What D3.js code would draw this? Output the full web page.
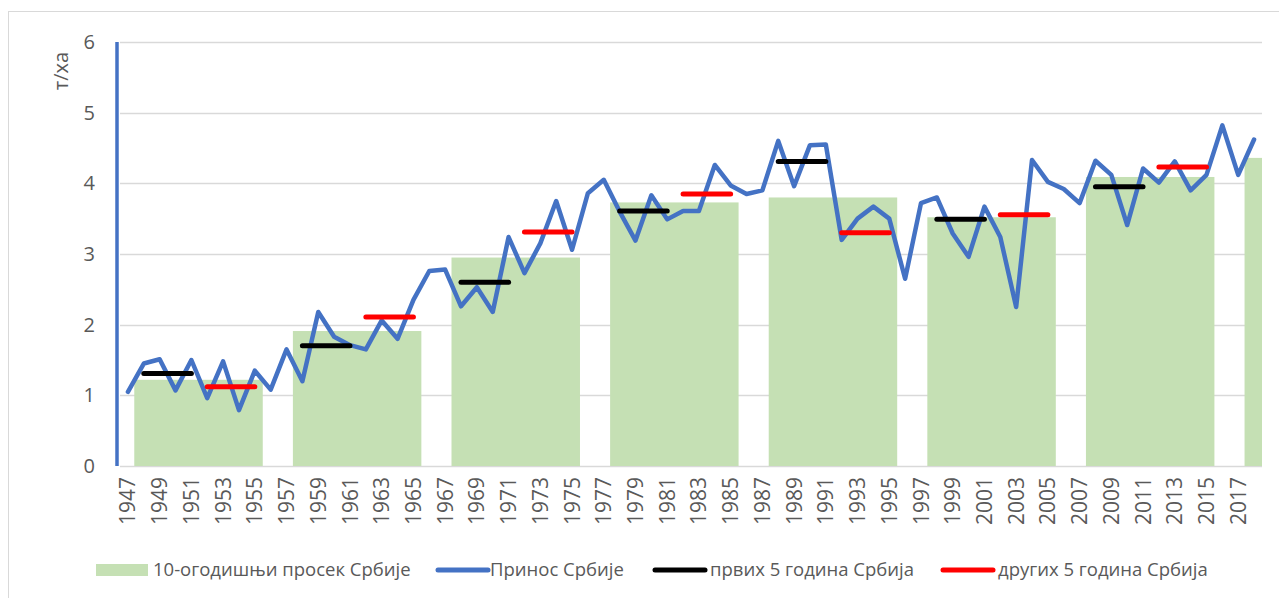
<!DOCTYPE html>
<html>
<head>
<meta charset="utf-8">
<script src="https://cdn.jsdelivr.net/npm/d3@7"></script>
<style>
  body { margin: 0; background: #fff; }
  text { font-family: "Open Sans", "Noto Sans", sans-serif; fill: #595959; }
</style>
</head>
<body>
<div class="chart"></div>
<script>
var svgWidth = 1279;
var svgHeight = 598;

// years on the category axis
var years = d3.range(1947, 2019);
var yearLabels = d3.range(1947, 2019, 2);

// Принос Србије (т/ха)
var yields = [
  1.05, 1.45, 1.51, 1.07, 1.50, 0.96, 1.48, 0.79, 1.35, 1.08,
  1.65, 1.20, 2.18, 1.83, 1.71, 1.65, 2.06, 1.80, 2.35, 2.76,
  2.78, 2.26, 2.53, 2.18, 3.24, 2.73, 3.15, 3.75, 3.06, 3.86,
  4.05, 3.60, 3.19, 3.83, 3.49, 3.61, 3.61, 4.26, 3.97, 3.85,
  3.90, 4.60, 3.96, 4.54, 4.55, 3.20, 3.50, 3.67, 3.50, 2.65,
  3.72, 3.80, 3.29, 2.96, 3.67, 3.24, 2.25, 4.33, 4.02, 3.92,
  3.72, 4.32, 4.12, 3.41, 4.21, 4.01, 4.31, 3.90, 4.12, 4.82,
  4.12, 4.62
];

// 10-year averages, first / second 5-year averages
var decadeStarts = [1947, 1957, 1967, 1977, 1987, 1997, 2007, 2017];
var decadeAvg = [1.22, 1.91, 2.95, 3.73, 3.80, 3.52, 4.09, 4.36];
var first5 = [1.31, 1.70, 2.60, 3.61, 4.31, 3.49, 3.95];
var second5 = [1.12, 2.11, 3.31, 3.85, 3.30, 3.555, 4.23];

var yTicks = [0, 1, 2, 3, 4, 5, 6];

var legendItems = ["10-огодишњи просек Србије", "Принос Србије", "првих 5 година Србија", "других 5 година Србија"];

var plot = {left: 120, right: 1262, top: 42, bottom: 466};

var svg = d3.select(".chart")
    .append("svg")
    .attr("width", svgWidth)
    .attr("height", svgHeight);

// chart border
svg.append("rect")
    .attr("x", 8.5).attr("y", 11.5)
    .attr("width", 1300).attr("height", 700)
    .attr("fill", "none")
    .attr("stroke", "#d9d9d9");

var x = d3.scaleLinear()
    .domain([1946.5, 2018.5])
    .range([plot.left, plot.right]);

var y = d3.scaleLinear()
    .domain([0, 6])
    .range([plot.bottom, plot.top]);

svg.append("clipPath").attr("id", "clip")
  .append("rect")
    .attr("x", plot.left).attr("y", 0)
    .attr("width", plot.right - plot.left).attr("height", svgHeight);

// gridlines
svg.append("g")
    .selectAll("line")
    .data(yTicks)
    .enter()
    .append("line")
    .attr("x1", plot.left).attr("x2", plot.right)
    .attr("y1", function(d) { return Math.round(y(d)) + 0.5; })
    .attr("y2", function(d) { return Math.round(y(d)) + 0.5; })
    .attr("stroke", "#d9d9d9")
    .attr("stroke-width", 1.5);

// decade bars
svg.append("g")
    .attr("clip-path", "url(#clip)")
    .selectAll("rect")
    .data(decadeStarts)
    .enter()
    .append("rect")
    .attr("x", function(d) { return x(d + 0.4); })
    .attr("width", function(d) { return x(d + 8.5) - x(d + 0.4); })
    .attr("y", function(d, i) { return y(decadeAvg[i]); })
    .attr("height", function(d, i) { return y(0) - y(decadeAvg[i]); })
    .attr("fill", "#c5e0b4");

// yield line
var line = d3.line()
    .x(function(d, i) { return x(years[i]); })
    .y(function(d) { return y(d); });

svg.append("path")
    .datum(yields)
    .attr("d", line)
    .attr("fill", "none")
    .attr("stroke", "#4472c4")
    .attr("stroke-width", 4.5)
    .attr("stroke-linejoin", "round")
    .attr("stroke-linecap", "round");

// 5-year average segments
function drawSegments(vals, offset, color) {
    svg.append("g")
        .selectAll("line")
        .data(vals)
        .enter()
        .append("line")
        .attr("x1", function(d, i) { return x(decadeStarts[i] + offset); })
        .attr("x2", function(d, i) { return x(decadeStarts[i] + offset + 3); })
        .attr("y1", function(d) { return y(d); })
        .attr("y2", function(d) { return y(d); })
        .attr("stroke", color)
        .attr("stroke-width", 5)
        .attr("stroke-linecap", "round");
}
drawSegments(first5, 1, "#000000");
drawSegments(second5, 5, "#ff0000");

// blue vertical axis line
svg.append("line")
    .attr("x1", 117).attr("x2", 117)
    .attr("y1", y(6)).attr("y2", y(0))
    .attr("stroke", "#4472c4")
    .attr("stroke-width", 3.5);

// y tick labels
svg.append("g")
    .selectAll("text")
    .data(yTicks)
    .enter()
    .append("text")
    .attr("x", 95)
    .attr("y", function(d) { return y(d); })
    .attr("dy", "0.35em")
    .attr("text-anchor", "end")
    .style("font-size", "20px")
    .text(function(d) { return d; });

// y axis title
svg.append("text")
    .attr("transform", "translate(68,71) rotate(-90)")
    .attr("text-anchor", "middle")
    .style("font-size", "20px")
    .text("т/ха");

// x tick labels
svg.append("g")
    .selectAll("text")
    .data(yearLabels)
    .enter()
    .append("text")
    .attr("transform", function(d) { return "translate(" + x(d) + ",477) rotate(-90)"; })
    .attr("dy", "0.36em")
    .attr("text-anchor", "end")
    .style("font-size", "21px")
    .text(function(d) { return d; });

// legend
var legend = svg.append("g");
var legY = 570;

legend.append("rect")
    .attr("x", 96).attr("y", legY - 6)
    .attr("width", 52).attr("height", 12)
    .attr("fill", "#c5e0b4");

var legLines = [
    {x: 436, color: "#4472c4"},
    {x: 653, color: "#000000"},
    {x: 941, color: "#ff0000"}
];
legend.selectAll("line")
    .data(legLines)
    .enter()
    .append("line")
    .attr("x1", function(d) { return d.x + 2; })
    .attr("x2", function(d) { return d.x + 52; })
    .attr("y1", legY).attr("y2", legY)
    .attr("stroke", function(d) { return d.color; })
    .attr("stroke-width", 5)
    .attr("stroke-linecap", "round");

var legTextX = [153, 490, 710, 998];
legend.selectAll("text")
    .data(legendItems)
    .enter()
    .append("text")
    .attr("x", function(d, i) { return legTextX[i]; })
    .attr("y", legY)
    .attr("dy", "0.35em")
    .style("font-size", "18.5px")
    .text(function(d) { return d; });
</script>
</body>
</html>
